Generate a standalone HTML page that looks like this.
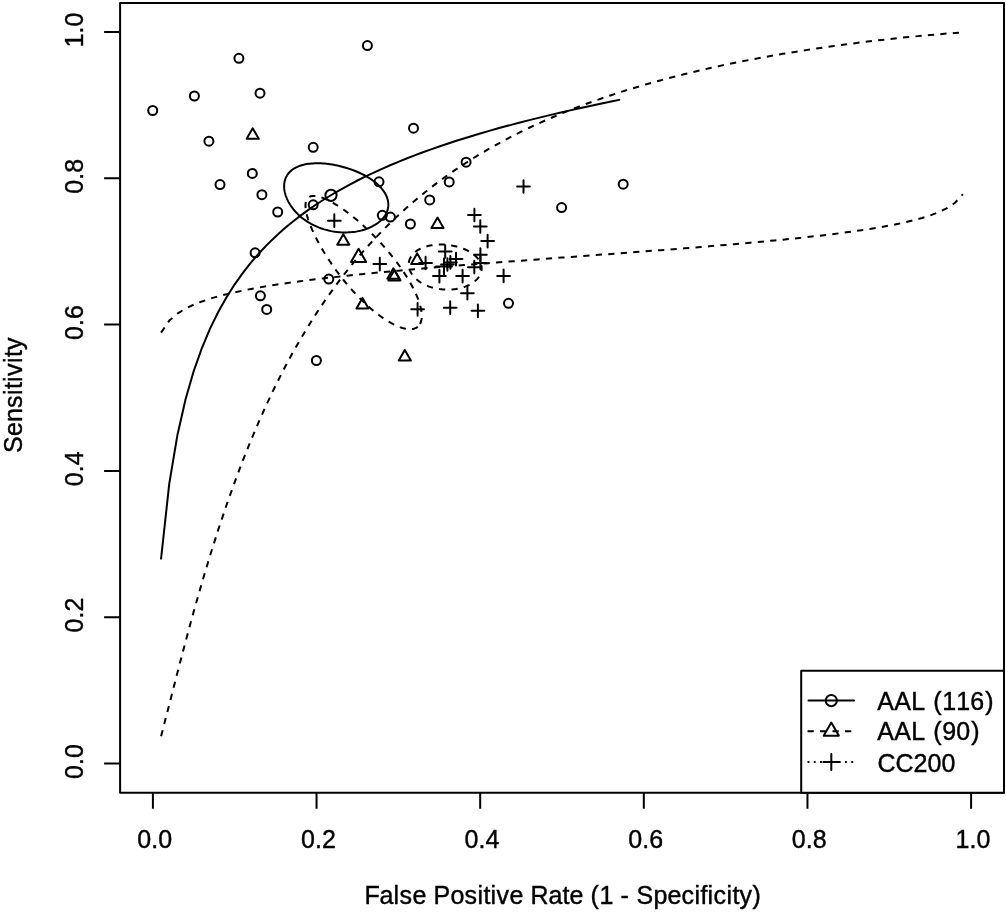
<!DOCTYPE html>
<html lang="en">
<head>
<meta charset="utf-8">
<title>SROC curves</title>
<style>
html,body{margin:0;padding:0;background:#fff;}
body{width:1006px;height:912px;overflow:hidden;}
svg{display:block;}
</style>
</head>
<body>
<svg width="1006" height="912" viewBox="0 0 1006 912">
<rect width="1006" height="912" fill="#fff"/>
<g fill="none" stroke="#000" stroke-width="2.0" stroke-linecap="round" stroke-linejoin="round">
<rect x="120.1" y="3" width="883.9" height="789.8"/>
<path d="M152.9 792.8V808.8M120.1 763.5H104.1M316.54 792.8V808.8M120.1 617.2H104.1M480.18 792.8V808.8M120.1 470.9H104.1M643.82 792.8V808.8M120.1 324.6H104.1M807.46 792.8V808.8M120.1 178.3H104.1M971.1 792.8V808.8M120.1 32H104.1" stroke-linecap="butt"/>
<g id="pts">
<circle cx="238.9" cy="58.3" r="4.5"/>
<circle cx="194.4" cy="96" r="4.5"/>
<circle cx="152.7" cy="110.5" r="4.5"/>
<circle cx="260" cy="93.2" r="4.5"/>
<circle cx="208.9" cy="141.2" r="4.5"/>
<circle cx="313.2" cy="147.3" r="4.5"/>
<circle cx="252.3" cy="173.4" r="4.5"/>
<circle cx="220" cy="184.6" r="4.5"/>
<circle cx="261.9" cy="194.7" r="4.5"/>
<circle cx="277.7" cy="212" r="4.5"/>
<circle cx="313.2" cy="204.8" r="4.5"/>
<circle cx="367.4" cy="45.6" r="4.5"/>
<circle cx="413.5" cy="128.2" r="4.5"/>
<circle cx="466.1" cy="162.2" r="4.5"/>
<circle cx="449.2" cy="181.9" r="4.5"/>
<circle cx="379" cy="181.8" r="4.5"/>
<circle cx="429.7" cy="199.9" r="4.5"/>
<circle cx="382.3" cy="215.3" r="4.5"/>
<circle cx="390.4" cy="217.1" r="4.5"/>
<circle cx="410.4" cy="224" r="4.5"/>
<circle cx="508.5" cy="303.3" r="4.5"/>
<circle cx="561.6" cy="207.6" r="4.5"/>
<circle cx="623.2" cy="184.2" r="4.5"/>
<circle cx="255.1" cy="252.8" r="4.5"/>
<circle cx="260.4" cy="295.8" r="4.5"/>
<circle cx="266.7" cy="309.4" r="4.5"/>
<circle cx="328.8" cy="279.1" r="4.5"/>
<circle cx="316.4" cy="360.5" r="4.5"/>
<path d="M252.7 128.3L258.76 138.8L246.64 138.8Z"/>
<path d="M343.3 234.2L349.36 244.7L337.24 244.7Z"/>
<path d="M437.5 217.5L443.56 228L431.44 228Z"/>
<path d="M417.2 253.4L423.26 263.9L411.14 263.9Z"/>
<path d="M393.4 268.3L399.46 278.8L387.34 278.8Z"/>
<path d="M394.4 270L400.46 280.5L388.34 280.5Z"/>
<path d="M362.5 297.9L368.56 308.4L356.44 308.4Z"/>
<path d="M404.8 350.1L410.86 360.6L398.74 360.6Z"/>
<path d="M327.94 220.7H340.66M334.3 214.34V227.06"/>
<path d="M517.14 186.5H529.86M523.5 180.14V192.86"/>
<path d="M468.04 215H480.76M474.4 208.64V221.36"/>
<path d="M473.94 226.5H486.66M480.3 220.14V232.86"/>
<path d="M481.24 241.1H493.96M487.6 234.74V247.46"/>
<path d="M474.04 254.7H486.76M480.4 248.34V261.06"/>
<path d="M474.04 262.9H486.76M480.4 256.54V269.26"/>
<path d="M467.94 267.2H480.66M474.3 260.84V273.56"/>
<path d="M438.84 251.5H451.56M445.2 245.14V257.86"/>
<path d="M449.64 259.1H462.36M456 252.74V265.46"/>
<path d="M419.24 263H431.96M425.6 256.64V269.36"/>
<path d="M441.04 264.5H453.76M447.4 258.14V270.86"/>
<path d="M444.04 262.4H456.76M450.4 256.04V268.76"/>
<path d="M433.04 276.1H445.76M439.4 269.74V282.46"/>
<path d="M456.24 276.1H468.96M462.6 269.74V282.46"/>
<path d="M497.24 275.9H509.96M503.6 269.54V282.26"/>
<path d="M461.04 293.2H473.76M467.4 286.84V299.56"/>
<path d="M411.24 309.3H423.96M417.6 302.94V315.66"/>
<path d="M443.84 307.7H456.56M450.2 301.34V314.06"/>
<path d="M471.54 310.8H484.26M477.9 304.44V317.16"/>
<path d="M373.44 264.1H386.16M379.8 257.74V270.46"/>
<circle cx="331" cy="195.3" r="5.62"/>
<path d="M358.6 248.85L366.18 261.97L351.02 261.97Z"/>
<path d="M436.05 266.5H451.95M444 258.55V274.45"/>
</g>
<path d="M161.08 558.55L169.26 483.66L177.45 434.91L185.63 399.01L193.81 370.82L201.99 347.77L210.17 328.38L218.36 311.72L226.54 297.18L234.72 284.31L242.9 272.81L251.08 262.43L259.27 252.99L267.45 244.36L275.63 236.41L283.81 229.06L291.99 222.23L300.18 215.85L308.36 209.88L316.54 204.28L324.72 198.99L332.9 194L341.09 189.27L349.27 184.77L357.45 180.5L365.63 176.42L373.81 172.53L382 168.8L390.18 165.23L398.36 161.8L406.54 158.51L414.72 155.33L422.91 152.27L431.09 149.32L439.27 146.47L447.45 143.71L455.63 141.04L463.82 138.45L472 135.93L480.18 133.49L488.36 131.11L496.54 128.8L504.73 126.56L512.91 124.36L521.09 122.22L529.27 120.14L537.45 118.1L545.64 116.1L553.82 114.15L562 112.25L570.18 110.38L578.36 108.54L586.55 106.75L594.73 104.98L602.91 103.25L611.09 101.55L619.27 99.87"/>
<path d="M285.23 179.23L285.59 178.26L286 177.32L286.45 176.4L286.96 175.5L287.52 174.64L288.12 173.8L288.78 172.99L289.48 172.2L290.23 171.45L291.03 170.73L291.88 170.04L292.78 169.38L293.72 168.75L294.71 168.16L295.74 167.59L296.82 167.06L297.94 166.57L299.11 166.11L300.32 165.68L301.58 165.28L302.87 164.92L304.21 164.6L305.59 164.31L307 164.06L308.45 163.84L309.94 163.65L311.47 163.51L313.03 163.39L314.62 163.32L316.24 163.28L317.89 163.27L319.57 163.3L321.27 163.37L323 163.47L324.76 163.61L326.53 163.78L328.32 163.99L330.13 164.24L331.95 164.52L333.78 164.83L335.63 165.18L337.48 165.57L339.33 165.98L341.19 166.44L343.05 166.92L344.91 167.44L346.76 168L348.6 168.58L350.43 169.2L352.25 169.85L354.05 170.54L355.84 171.25L357.6 171.99L359.33 172.77L361.05 173.57L362.73 174.4L364.37 175.26L365.99 176.15L367.56 177.06L369.1 178L370.59 178.96L372.04 179.95L373.44 180.96L374.78 181.99L376.08 183.04L377.32 184.12L378.51 185.21L379.63 186.32L380.69 187.45L381.69 188.59L382.63 189.75L383.5 190.91L384.3 192.1L385.04 193.29L385.7 194.49L386.29 195.69L386.81 196.91L387.25 198.12L387.62 199.34L387.91 200.56L388.13 201.78L388.27 203L388.34 204.22L388.33 205.43L388.24 206.63L388.08 207.82L387.84 209.01L387.52 210.18L387.13 211.34L386.67 212.48L386.13 213.61L385.52 214.72L384.84 215.81L384.08 216.87L383.26 217.91L382.37 218.93L381.42 219.92L380.4 220.89L379.32 221.82L378.18 222.72L376.98 223.59L375.72 224.43L374.41 225.23L373.05 225.99L371.63 226.71L370.17 227.4L368.67 228.05L367.12 228.65L365.54 229.22L363.91 229.74L362.26 230.21L360.57 230.65L358.85 231.03L357.1 231.37L355.33 231.67L353.54 231.91L351.74 232.11L349.92 232.26L348.08 232.37L346.24 232.42L344.38 232.43L342.53 232.39L340.67 232.3L338.81 232.16L336.96 231.97L335.11 231.74L333.27 231.46L331.43 231.13L329.62 230.76L327.81 230.34L326.03 229.87L324.26 229.37L322.51 228.81L320.79 228.22L319.09 227.58L317.42 226.91L315.78 226.19L314.16 225.44L312.58 224.65L311.03 223.82L309.52 222.96L308.04 222.07L306.6 221.15L305.19 220.19L303.83 219.21L302.5 218.2L301.22 217.16L299.98 216.1L298.78 215.02L297.62 213.92L296.51 212.8L295.44 211.66L294.42 210.5L293.45 209.33L292.52 208.15L291.64 206.96L290.8 205.76L290.02 204.55L289.28 203.34L288.59 202.12L287.95 200.9L287.36 199.68L286.81 198.46L286.32 197.24L285.88 196.03L285.48 194.82L285.14 193.62L284.84 192.42L284.6 191.24L284.41 190.07L284.26 188.91L284.17 187.76L284.13 186.63L284.13 185.52L284.19 184.42L284.3 183.34L284.46 182.28L284.66 181.24L284.92 180.23Z"/>
<g stroke-dasharray="6.25 6.25" stroke-linecap="butt">
<path d="M161.08 736.21L169.26 704.57L177.45 672.59L185.63 641.33L193.81 611.22L201.99 582.49L210.17 555.21L218.36 529.4L226.54 505.03L234.72 482.04L242.9 460.37L251.08 439.96L259.27 420.71L267.45 402.57L275.63 385.46L283.81 369.32L291.99 354.07L300.18 339.66L308.36 326.04L316.54 313.14L324.72 300.93L332.9 289.35L341.09 278.37L349.27 267.94L357.45 258.03L365.63 248.61L373.81 239.64L382 231.1L390.18 222.96L398.36 215.19L406.54 207.78L414.72 200.7L422.91 193.94L431.09 187.47L439.27 181.28L447.45 175.35L455.63 169.67L463.82 164.22L472 159L480.18 153.99L488.36 149.17L496.54 144.55L504.73 140.1L512.91 135.83L521.09 131.71L529.27 127.75L537.45 123.94L545.64 120.27L553.82 116.72L562 113.31L570.18 110.02L578.36 106.84L586.55 103.77L594.73 100.81L602.91 97.95L611.09 95.18L619.27 92.51L627.46 89.93L635.64 87.43L643.82 85.02L652 82.68L660.18 80.42L668.37 78.23L676.55 76.11L684.73 74.05L692.91 72.06L701.09 70.14L709.28 68.27L717.46 66.46L725.64 64.71L733.82 63.01L742 61.36L750.19 59.77L758.37 58.22L766.55 56.72L774.73 55.26L782.91 53.85L791.1 52.49L799.28 51.16L807.46 49.88L815.64 48.63L823.82 47.43L832.01 46.26L840.19 45.13L848.37 44.03L856.55 42.97L864.73 41.95L872.92 40.96L881.1 40.01L889.28 39.09L897.46 38.2L905.64 37.34L913.83 36.53L922.01 35.74L930.19 35L938.37 34.29L946.55 33.62L954.74 33L962.92 32.44"/>
<path d="M417.81 326.69L416.97 327.32L416.06 327.86L415.08 328.3L414.02 328.66L412.89 328.92L411.7 329.09L410.43 329.16L409.11 329.15L407.72 329.04L406.27 328.84L404.77 328.55L403.2 328.16L401.59 327.69L399.93 327.12L398.22 326.47L396.46 325.72L394.67 324.89L392.83 323.97L390.96 322.97L389.06 321.88L387.12 320.72L385.16 319.47L383.18 318.14L381.17 316.74L379.15 315.27L377.11 313.72L375.06 312.1L373 310.42L370.93 308.68L368.86 306.87L366.79 305L364.72 303.08L362.66 301.11L360.6 299.09L358.56 297.02L356.53 294.9L354.51 292.75L352.51 290.56L350.53 288.33L348.58 286.08L346.65 283.8L344.74 281.49L342.87 279.17L341.02 276.83L339.21 274.47L337.44 272.11L335.7 269.73L333.99 267.36L332.33 264.99L330.71 262.61L329.13 260.25L327.59 257.89L326.1 255.55L324.65 253.22L323.25 250.91L321.9 248.62L320.6 246.36L319.35 244.12L318.15 241.91L316.99 239.74L315.9 237.6L314.85 235.49L313.86 233.42L312.92 231.4L312.03 229.42L311.2 227.48L310.43 225.59L309.71 223.74L309.04 221.95L308.43 220.21L307.88 218.52L307.39 216.88L306.95 215.3L306.57 213.77L306.24 212.31L305.97 210.9L305.76 209.55L305.61 208.26L305.51 207.03L305.47 205.87L305.49 204.76L305.57 203.72L305.7 202.75L305.89 201.83L306.14 200.98L306.44 200.2L306.8 199.48L307.22 198.83L307.7 198.24L308.23 197.72L308.82 197.26L309.46 196.87L310.16 196.55L310.92 196.3L311.73 196.11L312.6 195.98L313.52 195.93L314.49 195.94L315.52 196.02L316.6 196.16L317.73 196.37L318.91 196.65L320.15 197L321.43 197.41L322.77 197.88L324.15 198.43L325.58 199.04L327.05 199.71L328.57 200.45L330.14 201.26L331.75 202.13L333.39 203.06L335.08 204.06L336.81 205.12L338.57 206.25L340.37 207.43L342.21 208.68L344.07 209.99L345.96 211.36L347.89 212.79L349.83 214.27L351.8 215.82L353.79 217.42L355.8 219.07L357.83 220.78L359.87 222.54L361.92 224.35L363.98 226.21L366.05 228.12L368.12 230.07L370.19 232.07L372.26 234.11L374.32 236.19L376.38 238.3L378.42 240.46L380.45 242.64L382.46 244.86L384.45 247.11L386.42 249.38L388.37 251.68L390.28 253.99L392.17 256.32L394.01 258.67L395.83 261.03L397.6 263.4L399.32 265.77L401 268.15L402.63 270.52L404.21 272.89L405.74 275.25L407.21 277.6L408.62 279.94L409.97 282.26L411.25 284.56L412.47 286.83L413.62 289.07L414.71 291.29L415.72 293.47L416.65 295.61L417.52 297.71L418.3 299.76L419.01 301.77L419.64 303.73L420.19 305.63L420.66 307.48L421.05 309.26L421.36 310.99L421.58 312.65L421.72 314.24L421.78 315.76L421.75 317.21L421.64 318.59L421.44 319.89L421.17 321.11L420.81 322.25L420.37 323.31L419.85 324.29L419.25 325.18L418.57 325.98Z"/>
<path d="M161.08 332.67L169.26 320.61L177.45 313.56L185.63 308.54L193.81 304.64L201.99 301.43L210.17 298.7L218.36 296.32L226.54 294.2L234.72 292.3L242.9 290.56L251.08 288.96L259.27 287.47L267.45 286.09L275.63 284.78L283.81 283.55L291.99 282.39L300.18 281.27L308.36 280.21L316.54 279.2L324.72 278.22L332.9 277.27L341.09 276.36L349.27 275.48L357.45 274.63L365.63 273.79L373.81 272.98L382 272.19L390.18 271.42L398.36 270.67L406.54 269.93L414.72 269.21L422.91 268.49L431.09 267.79L439.27 267.1L447.45 266.43L455.63 265.76L463.82 265.09L472 264.44L480.18 263.79L488.36 263.15L496.54 262.52L504.73 261.89L512.91 261.27L521.09 260.64L529.27 260.03L537.45 259.41L545.64 258.8L553.82 258.19L562 257.58L570.18 256.97L578.36 256.36L586.55 255.76L594.73 255.15L602.91 254.54L611.09 253.93L619.27 253.32L627.46 252.7L635.64 252.08L643.82 251.46L652 250.83L660.18 250.2L668.37 249.57L676.55 248.92L684.73 248.27L692.91 247.62L701.09 246.95L709.28 246.28L717.46 245.59L725.64 244.9L733.82 244.19L742 243.47L750.19 242.74L758.37 241.99L766.55 241.22L774.73 240.43L782.91 239.63L791.1 238.8L799.28 237.94L807.46 237.06L815.64 236.14L823.82 235.19L832.01 234.2L840.19 233.17L848.37 232.08L856.55 230.94L864.73 229.73L872.92 228.45L881.1 227.07L889.28 225.59L897.46 223.98L905.64 222.21L913.83 220.24L922.01 218L930.19 215.4L938.37 212.29L946.55 208.37L954.74 203L962.92 194.18"/>
<path d="M408.87 262.36L409.01 261.6L409.19 260.84L409.4 260.1L409.66 259.36L409.96 258.63L410.31 257.91L410.69 257.2L411.11 256.51L411.57 255.83L412.07 255.16L412.61 254.51L413.18 253.87L413.8 253.25L414.45 252.65L415.13 252.06L415.85 251.5L416.61 250.95L417.4 250.42L418.22 249.91L419.08 249.42L419.97 248.95L420.88 248.5L421.83 248.08L422.81 247.67L423.81 247.29L424.84 246.94L425.89 246.61L426.97 246.3L428.07 246.01L429.2 245.75L430.34 245.52L431.5 245.3L432.68 245.12L433.88 244.96L435.09 244.83L436.31 244.72L437.55 244.63L438.79 244.58L440.05 244.55L441.31 244.54L442.58 244.56L443.86 244.61L445.13 244.68L446.41 244.78L447.69 244.91L448.96 245.06L450.24 245.23L451.5 245.43L452.76 245.66L454.02 245.91L455.26 246.19L456.49 246.49L457.71 246.81L458.91 247.16L460.09 247.53L461.26 247.92L462.41 248.34L463.54 248.78L464.65 249.24L465.73 249.72L466.79 250.22L467.82 250.75L468.82 251.29L469.79 251.85L470.74 252.43L471.65 253.03L472.52 253.64L473.37 254.27L474.17 254.92L474.94 255.58L475.68 256.25L476.37 256.94L477.03 257.65L477.64 258.36L478.22 259.08L478.75 259.82L479.24 260.56L479.68 261.32L480.08 262.08L480.44 262.84L480.75 263.62L481.02 264.4L481.24 265.18L481.41 265.96L481.54 266.75L481.62 267.54L481.65 268.33L481.64 269.11L481.58 269.9L481.48 270.68L481.33 271.46L481.13 272.24L480.88 273L480.6 273.77L480.26 274.52L479.88 275.27L479.46 276L478.99 276.73L478.48 277.44L477.93 278.14L477.33 278.83L476.69 279.5L476.02 280.16L475.3 280.8L474.55 281.43L473.76 282.03L472.94 282.62L472.08 283.19L471.18 283.74L470.25 284.27L469.3 284.78L468.31 285.26L467.29 285.73L466.25 286.16L465.18 286.58L464.08 286.97L462.96 287.33L461.82 287.67L460.66 287.99L459.49 288.27L458.29 288.53L457.08 288.76L455.86 288.97L454.62 289.14L453.37 289.29L452.12 289.41L450.85 289.5L449.58 289.57L448.31 289.6L447.03 289.61L445.75 289.58L444.47 289.53L443.2 289.45L441.93 289.34L440.66 289.2L439.4 289.04L438.15 288.84L436.91 288.62L435.68 288.37L434.46 288.1L433.26 287.79L432.07 287.46L430.9 287.11L429.75 286.73L428.61 286.32L427.5 285.89L426.41 285.44L425.35 284.96L424.31 284.46L423.29 283.94L422.3 283.4L421.34 282.84L420.41 282.26L419.51 281.66L418.64 281.04L417.8 280.4L416.99 279.75L416.22 279.08L415.48 278.4L414.77 277.7L414.11 276.99L413.47 276.27L412.88 275.54L412.32 274.8L411.81 274.05L411.33 273.29L410.89 272.52L410.49 271.75L410.12 270.97L409.8 270.19L409.53 269.41L409.29 268.62L409.09 267.83L408.93 267.04L408.82 266.26L408.75 265.47L408.72 264.69L408.73 263.91L408.78 263.13Z"/>
</g>
<rect x="801.2" y="670.7" width="202.8" height="122.1" fill="#fff"/>
<path d="M808.5 700.6H854"/>
<path d="M807.5 731.3H855" stroke-dasharray="6.25 6.25" stroke-linecap="butt"/>
<path d="M807.5 762H855" stroke-dasharray="1.9 4.35" stroke-linecap="butt"/>
<circle cx="831.3" cy="700.6" r="5.62"/>
<path d="M831.3 722.55L838.88 735.67L823.72 735.67Z"/>
<path d="M823.35 762H839.25M831.3 754.05V769.95"/>
</g>
<g font-family="'Liberation Sans', Arial, Helvetica, sans-serif" font-size="25" fill="#000" stroke="#000" stroke-width="0.4">
<text x="137.3 151.3 158.3" y="848">0.0</text>
<text transform="translate(83.3 778.9) rotate(-90)" x="0 14 21" y="0">0.0</text>
<text x="300.94 314.94 321.94" y="848">0.2</text>
<text transform="translate(83.3 632.6) rotate(-90)" x="0 14 21" y="0">0.2</text>
<text x="464.58 478.58 485.58" y="848">0.4</text>
<text transform="translate(83.3 486.3) rotate(-90)" x="0 14 21" y="0">0.4</text>
<text x="628.22 642.22 649.22" y="848">0.6</text>
<text transform="translate(83.3 340) rotate(-90)" x="0 14 21" y="0">0.6</text>
<text x="791.86 805.86 812.86" y="848">0.8</text>
<text transform="translate(83.3 193.7) rotate(-90)" x="0 14 21" y="0">0.8</text>
<text x="955.5 969.5 976.5" y="848">1.0</text>
<text transform="translate(83.3 47.4) rotate(-90)" x="0 14 21" y="0">1.0</text>
<text x="364.4 379.4 393.4 399.4 412.4 426.4 433.4 450.4 464.4 477.4 483.4 490.4 496.4 509.4 523.4 530.4 548.4 562.4 569.4 583.4 590.4 599.4 613.4 620.4 629.4 636.4 653.4 667.4 681.4 694.4 700.4 707.4 713.4 726.4 732.4 739.4 752.4" y="903.7">False Positive Rate (1 - Specificity)</text>
<text transform="translate(22.1 453) rotate(-90)" x="0 17 31 45 58 64 71 77 90 96 103" y="0">Sensitivity</text>
<text x="877.2 894.2 911.2 925.2 933.2 942.2 956.2 970.2 985.2" y="709.7">AAL (116)</text>
<text x="877.2 894.2 911.2 925.2 933.2 942.2 956.2 971.2" y="740.4">AAL (90)</text>
<text x="877.6 895.6 913.6 927.6 941.6" y="771.6">CC200</text>
</g>
</svg>
</body>
</html>
